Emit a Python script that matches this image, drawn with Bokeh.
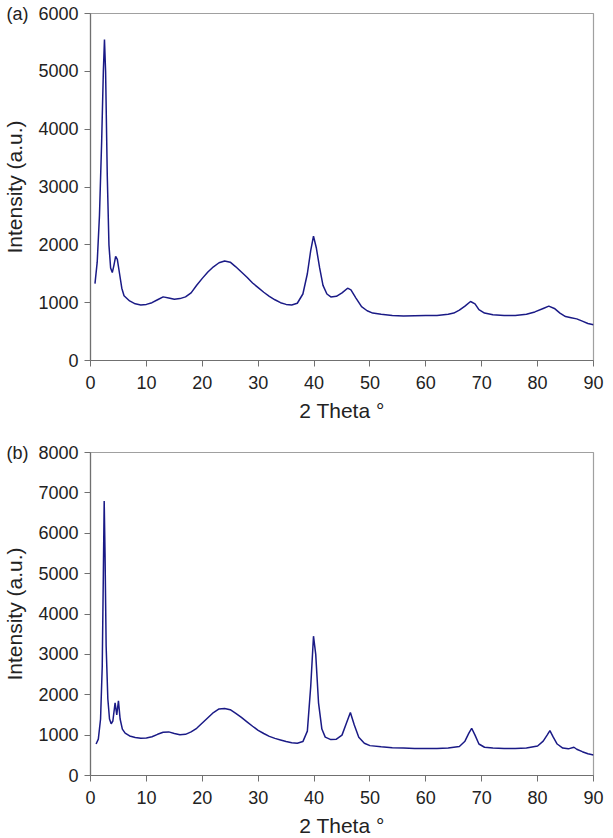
from bokeh.plotting import figure
from bokeh.layouts import column
from bokeh.models import Range1d, FixedTicker
from bokeh.embed import file_html
from bokeh.resources import INLINE

# ---- data ----
theta_a = [0.8, 1.2, 1.6, 2.0, 2.3, 2.5, 2.7, 3.0, 3.3, 3.6, 3.9, 4.2, 4.5, 4.8, 5.2, 5.6, 6.0,
           7, 8, 9, 10, 11, 12, 13, 14, 15, 16, 17, 18, 19, 20, 21, 22, 23, 24, 25, 26, 27, 28,
           29, 30, 31, 32, 33, 34, 35, 36, 37, 38, 38.8, 39.4, 39.9, 40.4, 41, 41.6, 42.3, 43,
           44, 45, 46, 46.6, 47.5, 48.5, 49.5, 50.5, 52, 54, 56, 58, 60, 62, 64, 65, 66, 67, 68,
           68.8, 69.5, 70.5, 72, 74, 76, 78, 79.5, 81, 82, 83, 84, 85, 86, 87, 88, 89, 90]
intensity_a = [1330, 1700, 2500, 3800, 5000, 5550, 5000, 3200, 2000, 1600, 1520, 1650, 1800, 1750,
               1500, 1250, 1120, 1030, 980, 960, 970, 1000, 1050, 1100, 1080, 1060, 1070, 1100,
               1170, 1300, 1420, 1530, 1620, 1690, 1720, 1700, 1620, 1530, 1440, 1340, 1260, 1180,
               1110, 1050, 1000, 970, 960, 990, 1150, 1500, 1900, 2150, 1950, 1600, 1300, 1150,
               1100, 1110, 1170, 1250, 1220, 1080, 930, 860, 820, 800, 780, 770, 775, 780, 780,
               800, 820, 870, 940, 1020, 980, 880, 820, 790, 780, 780, 800, 840, 900, 940, 900,
               820, 760, 740, 720, 680, 640, 620]

theta_b = [1.0, 1.4, 1.8, 2.1, 2.3, 2.45, 2.6, 2.8, 3.1, 3.4, 3.7, 4.0, 4.4, 4.7, 5.0, 5.3, 5.7,
           6.2, 7, 8, 9, 10, 11, 12, 13, 14, 15, 16, 17, 18, 19, 20, 21, 22, 23, 24, 25, 26, 27,
           28, 29, 30, 31, 32, 33, 34, 35, 36, 37, 38, 38.8, 39.4, 39.9, 40.3, 40.8, 41.4, 42,
           43, 44, 45, 45.8, 46.5, 47.2, 48, 49, 50, 52, 54, 56, 58, 60, 62, 64, 66, 67, 67.7,
           68.2, 68.8, 69.5, 70.5, 72, 74, 76, 78, 80, 81, 81.7, 82.2, 82.8, 83.5, 84.5, 85.5,
           86.5, 87, 88, 89, 90]
intensity_b = [780, 900, 1400, 2700, 5000, 6800, 5500, 3200, 1900, 1400, 1280, 1350, 1800, 1500,
               1850, 1400, 1150, 1050, 980, 940, 920, 930, 960, 1020, 1070, 1080, 1040, 1010,
               1020, 1080, 1170, 1300, 1430, 1560, 1650, 1660, 1630, 1540, 1440, 1330, 1220,
               1120, 1040, 970, 920, 880, 840, 810, 800, 840, 1100, 2200, 3450, 3000, 1800, 1150,
               950, 890, 900, 1000, 1300, 1560, 1250, 950, 800, 740, 710, 690, 680, 670, 670,
               670, 680, 720, 850, 1050, 1170, 1000, 780, 700, 680, 670, 670, 680, 730, 850,
               1000, 1110, 950, 780, 680, 660, 700, 650, 590, 540, 510]

x_ticks = [0, 10, 20, 30, 40, 50, 60, 70, 80, 90]
y_ticks_a = [0, 1000, 2000, 3000, 4000, 5000, 6000]
y_ticks_b = [0, 1000, 2000, 3000, 4000, 5000, 6000, 7000, 8000]

FONT = "Liberation Sans"
LINE = "#1a1a86"


def make_panel(tag, xs, ys, yticks, ymax, fh, top, bottom):
    p = figure(frame_width=503, frame_height=fh, output_backend="svg", toolbar_location=None,
               x_range=Range1d(0, 90), y_range=Range1d(0, ymax),
               min_border_left=88, min_border_right=14, min_border_top=top,
               min_border_bottom=bottom)
    p.line(xs, ys, line_color=LINE, line_width=1.5)
    p.grid.visible = False
    p.outline_line_color = "#a0a0a0"
    p.outline_line_width = 1.2
    p.background_fill_color = "white"
    p.border_fill_color = "white"
    for ax in (p.xaxis[0], p.yaxis[0]):
        ax.axis_line_color = "#707070"
        ax.axis_line_width = 1.2
        ax.major_tick_line_color = "#707070"
        ax.major_tick_out = 6
        ax.major_tick_in = 0
        ax.minor_tick_line_color = None
        ax.major_label_text_font = FONT
        ax.major_label_text_font_size = "18px"
        ax.major_label_text_color = "#222222"
        ax.axis_label_text_font = FONT
        ax.axis_label_text_font_size = "21px"
        ax.axis_label_text_font_style = "normal"
        ax.axis_label_text_color = "#222222"
    p.xaxis.ticker = FixedTicker(ticks=x_ticks)
    p.yaxis.ticker = FixedTicker(ticks=yticks)
    # panel tag shares the top tick label's line, as in the reference
    p.yaxis.major_label_overrides = {ymax: tag + "\u00a0\u00a0" + str(ymax)}
    p.xaxis.axis_label = "2 Theta °"
    p.yaxis.axis_label = "Intensity (a.u.)"
    p.xaxis.major_label_standoff = 9
    p.xaxis.axis_label_standoff = 7
    p.yaxis.major_label_standoff = 6
    p.yaxis.axis_label_standoff = -23
    return p


pa = make_panel("(a)", theta_a, intensity_a, y_ticks_a, 6000, 347, 13, 70)
pb = make_panel("(b)", theta_b, intensity_b, y_ticks_b, 8000, 323, 22, 54)

layout = column(pa, pb, spacing=0)
open("out.html", "w").write(file_html(layout, INLINE))
